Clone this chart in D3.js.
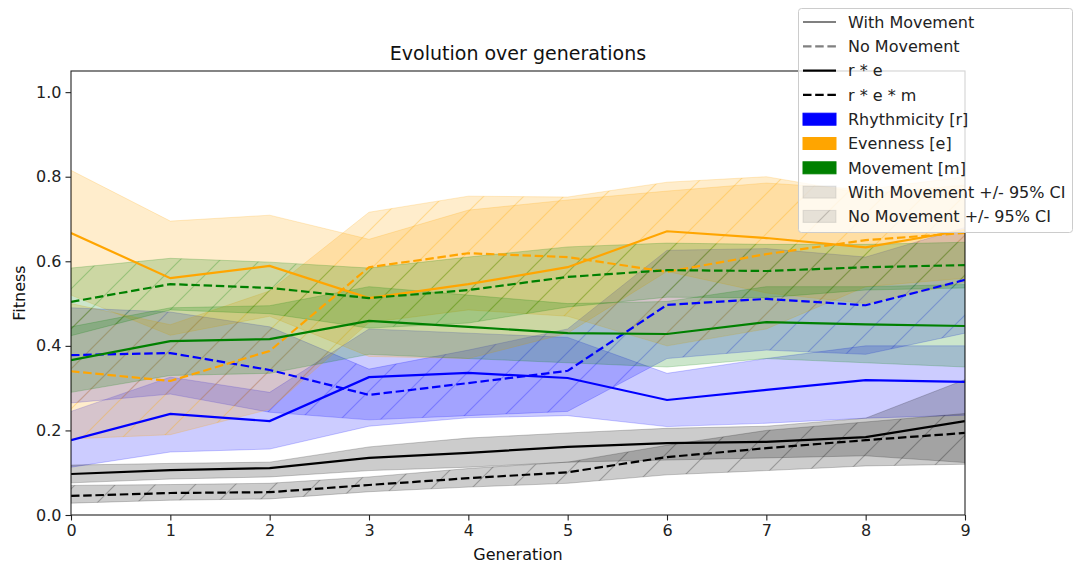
<!DOCTYPE html>
<html><head><meta charset="utf-8">
<script src="https://cdn.jsdelivr.net/npm/d3@7"></script>
<style>
html,body{margin:0;padding:0;background:#fff;}
svg{display:block;font-family:"DejaVu Sans",sans-serif;}
</style></head>
<body>
<svg id="chart" width="1074" height="567"></svg>
<script>
// ---------- DATA ----------
const generations = [0,1,2,3,4,5,6,7,8,9];
const yTicks = [0,0.2,0.4,0.6,0.8,1.0];

// Rhythmicity [r]
const rhythmWith     = [0.177,0.239,0.222,0.326,0.336,0.324,0.272,0.296,0.319,0.315];
const rhythmWithLo   = [0.113,0.149,0.156,0.210,0.230,0.235,0.209,0.217,0.229,0.236];
const rhythmWithHi   = [0.245,0.326,0.290,0.440,0.430,0.420,0.335,0.370,0.400,0.400];
const rhythmNo       = [0.378,0.383,0.343,0.284,0.312,0.341,0.497,0.511,0.496,0.556];
const rhythmNoLo     = [0.265,0.286,0.243,0.225,0.235,0.245,0.370,0.390,0.380,0.430];
const rhythmNoHi     = [0.490,0.480,0.445,0.345,0.390,0.440,0.626,0.630,0.610,0.680];

// Evenness [e]
const evenWith       = [0.667,0.560,0.589,0.513,0.546,0.586,0.671,0.655,0.633,0.674];
const evenWithLo     = [0.520,0.425,0.470,0.375,0.370,0.430,0.576,0.525,0.500,0.550];
const evenWithHi     = [0.815,0.695,0.709,0.652,0.721,0.745,0.766,0.785,0.770,0.800];
const evenNo         = [0.340,0.317,0.388,0.586,0.619,0.610,0.575,0.617,0.650,0.667];
const evenNoLo       = [0.180,0.190,0.250,0.455,0.485,0.470,0.400,0.440,0.540,0.560];
const evenNoHi       = [0.500,0.450,0.530,0.716,0.754,0.752,0.787,0.800,0.760,0.780];

// Movement [m]
const moveWith       = [0.366,0.411,0.416,0.459,0.445,0.430,0.428,0.456,0.451,0.447];
const moveWithLo     = [0.290,0.330,0.335,0.380,0.370,0.360,0.350,0.370,0.360,0.350];
const moveWithHi     = [0.445,0.490,0.495,0.540,0.520,0.500,0.505,0.540,0.540,0.545];
const moveNo         = [0.504,0.546,0.537,0.513,0.532,0.563,0.579,0.577,0.586,0.591];
const moveNoLo       = [0.424,0.485,0.476,0.442,0.454,0.492,0.515,0.514,0.532,0.537];
const moveNoHi       = [0.584,0.607,0.598,0.584,0.610,0.634,0.643,0.640,0.640,0.645];

// r * e  and  r * e * m
const reProd         = [0.097,0.106,0.111,0.135,0.147,0.161,0.170,0.173,0.184,0.222];
const reProdLo       = [0.076,0.085,0.090,0.105,0.113,0.125,0.130,0.135,0.140,0.124];
const reProdHi       = [0.118,0.122,0.125,0.161,0.182,0.194,0.205,0.210,0.229,0.320];
const remProd        = [0.045,0.052,0.054,0.071,0.087,0.101,0.137,0.158,0.177,0.194];
const remProdLo      = [0.028,0.035,0.038,0.055,0.066,0.075,0.095,0.105,0.116,0.120];
const remProdHi      = [0.070,0.072,0.075,0.090,0.110,0.125,0.165,0.200,0.220,0.240];

const legendLabels = ["With Movement","No Movement","r * e","r * e * m","Rhythmicity [r]","Evenness [e]","Movement [m]","With Movement +/- 95% CI","No Movement +/- 95% CI"];

// ---------- LAYOUT ----------
const svg = d3.select("#chart");
const L = 71, R = 965, T = 71, B = 515;
const x = d3.scaleLinear().domain([0,9]).range([L,R]);
const y = d3.scaleLinear().domain([0,1.05]).range([B,T]);

const series = [
  {c:"#0000ff", id:"blue",   m:rhythmWith, lo:rhythmWithLo, hi:rhythmWithHi, dash:false},
  {c:"#0000ff", id:"blue",   m:rhythmNo,   lo:rhythmNoLo,   hi:rhythmNoHi,   dash:true},
  {c:"#ffa500", id:"orange", m:evenWith,   lo:evenWithLo,   hi:evenWithHi,   dash:false},
  {c:"#ffa500", id:"orange", m:evenNo,     lo:evenNoLo,     hi:evenNoHi,     dash:true},
  {c:"#008000", id:"green",  m:moveWith,   lo:moveWithLo,   hi:moveWithHi,   dash:false},
  {c:"#008000", id:"green",  m:moveNo,     lo:moveNoLo,     hi:moveNoHi,     dash:true},
  {c:"#000000", id:"black",  m:reProd,     lo:reProdLo,     hi:reProdHi,     dash:false},
  {c:"#000000", id:"black",  m:remProd,    lo:remProdLo,    hi:remProdHi,    dash:true}
];

const DASH = "8.5,3.7";
// hatch patterns
const defs = svg.append("defs");
const S = 40;
function makeHatch(id, color, op){
  const p = defs.append("pattern").attr("id","hatch-"+id)
    .attr("patternUnits","userSpaceOnUse").attr("width",S).attr("height",S);
  p.append("path").attr("d",`M0,${S} L${S},0 M${-S/2},${S/2} L${S/2},${-S/2} M${S/2},${S*1.5} L${S*1.5},${S/2}`)
    .attr("stroke",color).attr("stroke-opacity",op).attr("stroke-width",1.2).attr("fill","none");
}
makeHatch("blue","#0000ff",0.25);
makeHatch("orange","#ffa500",0.3);
makeHatch("green","#008000",0.25);
makeHatch("black","#000000",0.25);
makeHatch("gray","#808080",0.4);

defs.append("clipPath").attr("id","clip").append("rect")
  .attr("x",L).attr("y",T).attr("width",R-L).attr("height",B-T);

const plot = svg.append("g").attr("clip-path","url(#clip)");

const area = (s) => d3.area().x((d,i)=>x(generations[i])).y0((d,i)=>y(s.lo[i])).y1((d,i)=>y(s.hi[i]))(s.m);
const line = (arr) => d3.line().x((d,i)=>x(generations[i])).y(d=>y(d))(arr);

// bands
series.forEach(s=>{
  plot.append("path").attr("d",area(s))
    .attr("fill",s.c).attr("fill-opacity",0.2)
    .attr("stroke",s.c).attr("stroke-opacity",0.2).attr("stroke-width",1);
  if(s.dash){
    plot.append("path").attr("d",area(s)).attr("fill","url(#hatch-"+s.id+")").attr("stroke","none");
  }
});
// lines
series.forEach(s=>{
  plot.append("path").attr("d",line(s.m)).attr("fill","none")
    .attr("stroke",s.c).attr("stroke-width",2.2)
    .attr("stroke-dasharray", s.dash ? DASH : null);
});

// axes
const fs = 16;
const xAxis = svg.append("g").attr("transform",`translate(0,${B})`)
  .call(d3.axisBottom(x).tickValues(generations).tickFormat(d3.format("d")).tickSizeOuter(0).tickSize(5.5).tickPadding(4));
const yAxis = svg.append("g").attr("transform",`translate(${L},0)`)
  .call(d3.axisLeft(y).tickValues(yTicks).tickFormat(d3.format(".1f")).tickSizeOuter(0).tickSize(5.5).tickPadding(4));
[xAxis,yAxis].forEach(a=>{
  a.select(".domain").remove();
  a.selectAll("text").attr("font-size",fs).attr("font-family","DejaVu Sans").attr("fill","#222");
  a.selectAll("line").attr("stroke","#222").attr("stroke-width",1.1);
});
// frame
svg.append("rect").attr("x",L).attr("y",T).attr("width",R-L).attr("height",B-T)
  .attr("fill","none").attr("stroke","#222").attr("stroke-width",1.1);

// titles
svg.append("text").attr("x",(L+R)/2).attr("y",60).attr("text-anchor","middle")
  .attr("font-size",19).attr("fill","#111").text("Evolution over generations");
svg.append("text").attr("x",(L+R)/2).attr("y",560).attr("text-anchor","middle")
  .attr("font-size",16).attr("fill","#111").text("Generation");
svg.append("text").attr("transform",`translate(25,${(T+B)/2}) rotate(-90)`).attr("text-anchor","middle")
  .attr("font-size",16).attr("fill","#111").text("Fitness");

// legend
const lg = svg.append("g");
lg.append("rect").attr("x",798.5).attr("y",8.5).attr("width",274).attr("height",224).attr("rx",3)
  .attr("fill","#fff").attr("fill-opacity",0.8).attr("stroke","#ccc");
const rowY = i => 22 + i*24.3;
const sx0 = 803, sx1 = 836, tx = 848;
const lineItems = [
  {c:"#808080", dash:false},{c:"#808080", dash:true},{c:"#000", dash:false},{c:"#000", dash:true}
];
lineItems.forEach((d,i)=>{
  lg.append("line").attr("x1",sx0).attr("x2",sx1).attr("y1",rowY(i)).attr("y2",rowY(i))
    .attr("stroke",d.c).attr("stroke-width",2.2).attr("stroke-dasharray",d.dash?DASH:null);
});
const patchItems = [
  {fill:"#0000ff", op:1, hatch:false},{fill:"#ffa500", op:1, hatch:false},{fill:"#008000", op:1, hatch:false},
  {fill:"#808080", op:0.2, hatch:false},{fill:"#808080", op:0.2, hatch:true}
];
patchItems.forEach((d,j)=>{
  const i = j+4;
  lg.append("rect").attr("x",sx0).attr("y",rowY(i)-6).attr("width",sx1-sx0).attr("height",12)
    .attr("fill",d.fill).attr("fill-opacity",d.op).attr("stroke",d.fill).attr("stroke-opacity",d.op);
  if(d.hatch){
    lg.append("rect").attr("x",sx0).attr("y",rowY(i)-6).attr("width",sx1-sx0).attr("height",12)
      .attr("fill","url(#hatch-gray)");
  }
});
legendLabels.forEach((t,i)=>{
  lg.append("text").attr("x",tx).attr("y",rowY(i)).attr("dy","0.36em")
    .attr("font-size",16).attr("fill","#222").text(t);
});
</script>
</body></html>
